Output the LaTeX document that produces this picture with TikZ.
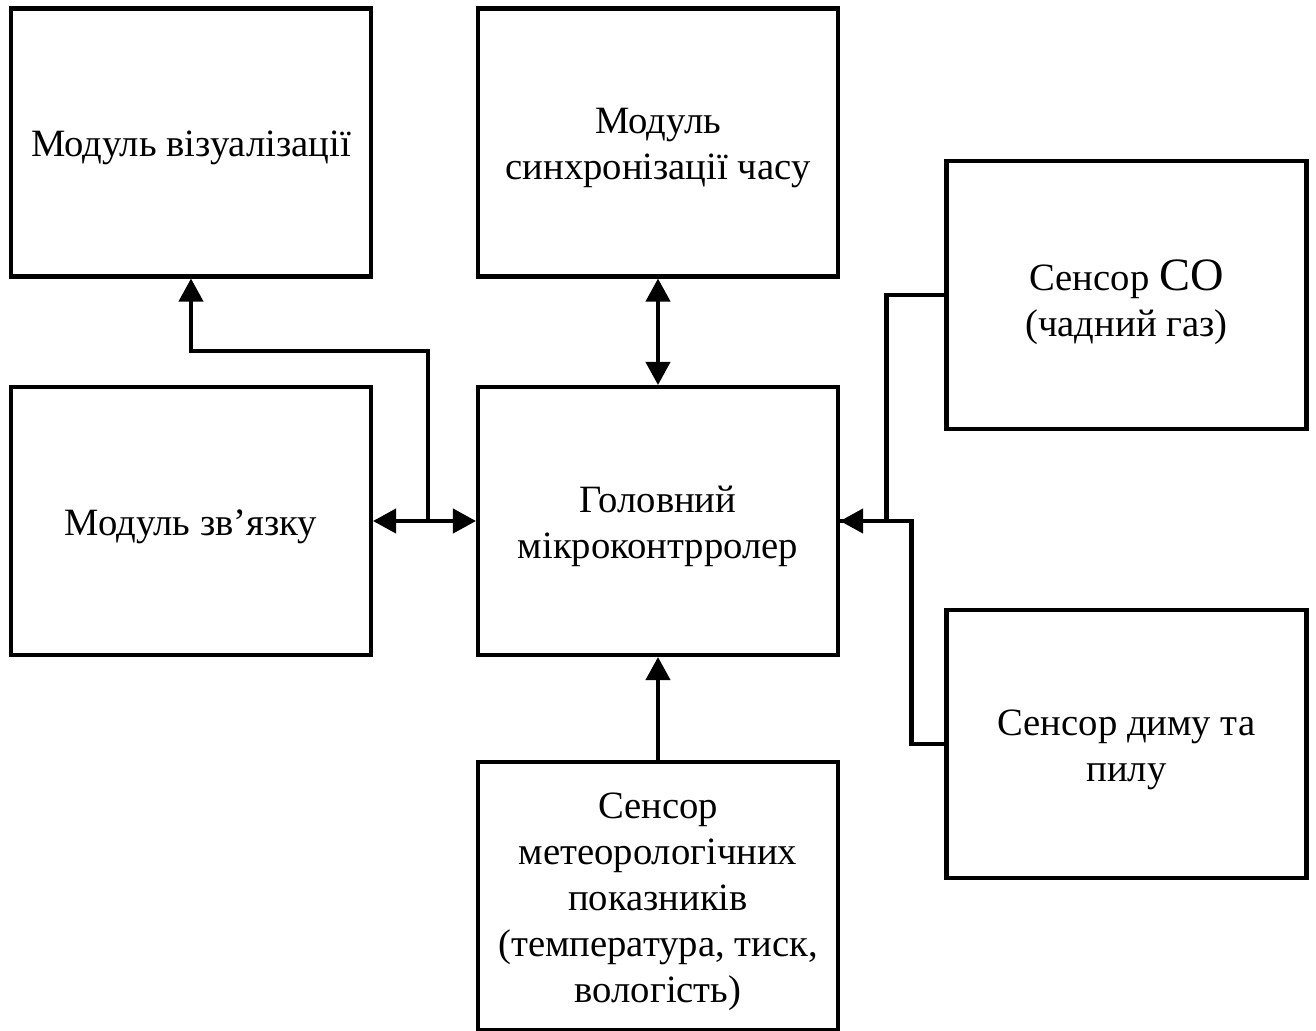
\documentclass[tikz,border=0pt]{standalone}
\usepackage{fontspec}
\setmainfont{Liberation Serif}
\usetikzlibrary{arrows.meta}
\newcommand{\lift}[1][3.7mm]{\rule{0pt}{#1}}
\tikzset{block/.style = {draw, line width=1.15pt, minimum width=3.6cm,
                         minimum height=2.68cm, align=center, inner sep=0pt,
                         font=\fontsize{11}{13.1}\selectfont},
         link/.style = {line width=1.15pt},
         >={Triangle[length=0.23cm, width=0.24cm]}}

\begin{document}
\begin{tikzpicture}
    \useasboundingbox (0, 0) rectangle (13.16, -10.30);
    \node [block] (vis) at (1.91, -1.425) {\lift Модуль візуалізації};
    \node [block] (sync) at (6.58, -1.425) {\lift Модуль\\синхронізації часу};
    \node [block] (co) at (11.265, -2.95) {\lift[4.6mm]Сенсор {\fontsize{13.2}{13.1}\selectfont CO}\\(чадний газ)};
    \node [block] (comm) at (1.91, -5.21) {\lift Модуль зв’язку};
    \node [block] (mcu) at (6.58, -5.21) {\lift Головний\\мікроконтрролер};
    \node [block] (dust) at (11.265, -7.44) {\lift Сенсор диму та\\пилу};
    \node [block] (meteo) at (6.58, -8.96) {\lift Сенсор\\метеорологічних\\показників\\(температура, тиск,\\вологість)};
    \coordinate (split) at (4.28, -5.21);
    \draw [link, <->] (comm) -- (mcu);
    \draw [link, ->] (split) -- ++(0, 1.70) -| (vis.south);
    \draw [link, <->] (sync) -- (mcu);
    \draw [link, ->] (meteo) -- (mcu);
    \draw [link, ->] (co.west) -- ++(-0.58, 0) |- (mcu.east);
    \draw [link] (dust.west) -- ++(-0.33, 0) |- (mcu.east);
  \end{tikzpicture}
\end{document}
